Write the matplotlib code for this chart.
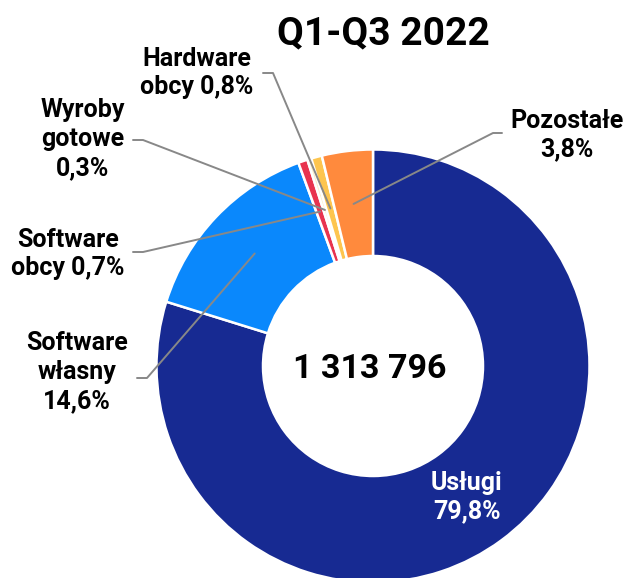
import numpy as np
import matplotlib
matplotlib.use("Agg")
import matplotlib.pyplot as plt

# dane
kategorie = ["Usługi", "Software\nwłasny", "Software\nobcy", "Wyroby\ngotowe", "Hardware\nobcy", "Pozostałe"]
udzialy = [79.8, 14.6, 0.7, 0.3, 0.8, 3.8]
kolory = ["#172a92", "#0a88fc", "#e8344f", "#fcefc7", "#fdc54f", "#ff8a3d"]
suma = "1 313 796"
tytul = "Q1-Q3 2022"

plt.rcParams['font.family'] = ['Roboto', 'DejaVu Sans']

fig = plt.figure(figsize=(6.27, 5.78), dpi=100)
ax = fig.add_axes([0, 0, 1, 1])

# geometria w pikselach (os y odwrocona)
cx, cy = 373, 366
r_out = 216.5
r_in = 110

wedges, _ = ax.pie(udzialy, colors=kolory, startangle=-90, counterclock=True,
                   radius=r_out, center=(cx, cy),
                   wedgeprops=dict(width=r_out - r_in, edgecolor="white", linewidth=1.8))
ax.set_xlim(0, 627)
ax.set_ylim(578, 0)
ax.set_aspect("equal")
ax.axis("off")


def pct(v):
    return f"{v:.1f}%".replace(".", ",")


def srodek(w):
    a = np.deg2rad((w.theta1 + w.theta2) / 2)
    r = (r_out + r_in) / 2
    return cx + r * np.cos(a), cy + r * np.sin(a)


tekst = dict(fontsize=18, fontweight="bold", ha="center", va="center", linespacing=1.25)
szary = dict(color="#888888", lw=1.4, solid_capstyle="round")

# Usługi - wewnatrz
ax.text(467, 497, f"{kategorie[0]}\n{pct(udzialy[0])}", color="white", **tekst)

# etykiety z liniami: (pozycja tekstu, start poziomej kreski, koniec poziomej kreski)
etykiety = {
    1: ((77, 372), (137, 378), (147, 378)),
    2: ((68, 254), (133, 252), (143, 252)),
    3: ((83, 139), (133, 140), (143, 140)),
    4: ((197, 73), (263, 73), (273, 73)),
    5: ((567, 135), (502, 133), (493, 133)),
}
for i, (poz, p0, p1) in etykiety.items():
    nazwa = kategorie[i]
    if i == 2:
        txt = f"Software\nobcy {pct(udzialy[i])}"
    elif i == 4:
        txt = f"Hardware\nobcy {pct(udzialy[i])}"
    else:
        txt = f"{nazwa}\n{pct(udzialy[i])}"
    ax.text(poz[0], poz[1], txt, color="black", **tekst)
    ex, ey = srodek(wedges[i])
    ax.plot([p0[0], p1[0], ex], [p0[1], p1[1], ey], **szary)

ax.text(370, 369, suma, fontsize=24.5, fontweight="bold", ha="center", va="center")
ax.text(383, 34, tytul, fontsize=28, fontweight="bold", ha="center", va="center")

fig.savefig("out.png", dpi=100)
